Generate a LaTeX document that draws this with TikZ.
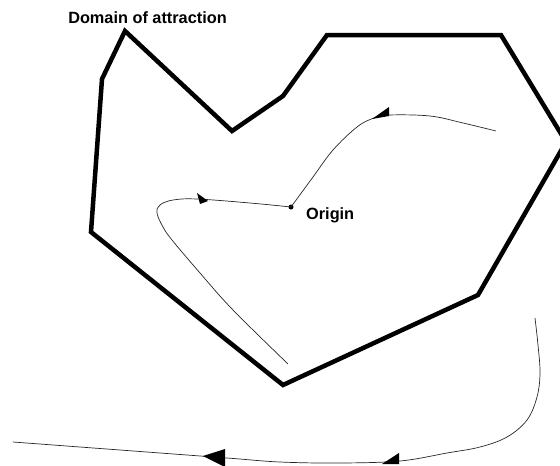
\documentclass[tikz,border=0pt]{standalone}
\usepackage{fontspec}
\setmainfont{Liberation Sans}
\begin{document}
\begin{tikzpicture}[x=1pt,y=-1pt,
  region/.style={line width=4.5pt, line join=miter},
  traj/.style={line width=0.7pt, black!85},
  head/.style={fill=black},
  lbl/.style={font=\fontsize{16.3}{19}\selectfont\bfseries, inner sep=0pt},
  dot/.style={circle, fill=black, inner sep=0pt, minimum size=5pt}]
\useasboundingbox (0,0) rectangle (560,466);
\begin{scope}
\clip (0,0) rectangle (560,466);
% domain of attraction
\draw[region] (125,31) -- (232,131) -- (283,96) -- (327,35) -- (501,35)
  -- (566,142) -- (478,295) -- (283,385) -- (91,232) -- (102,79) -- cycle;

% labels and origin
\node[lbl, anchor=base] (title) at (147.5,23.5) {Domain of attraction};
\node[dot] (O) at (291,207) {};
\node[lbl, anchor=base west] (olabel) at (306,219) {Origin};

\coordinate (o) at (291,207);
\coordinate (e1) at (496,131);
\coordinate (e2) at (288,364);
\coordinate (s3) at (535,318);
\coordinate (e3) at (13,442);

% upper trajectory
\draw[traj] plot[smooth, tension=0.6] coordinates {(o) (313,177) (333,150) (357,127) (374,118) (389,115) (430,116) (463,123) (e1)};
% left trajectory
\draw[traj] plot[smooth, tension=0.6] coordinates {(o) (250,203) (197,199) (173,200) (160,205) (157,213) (163,227) (172,240) (200,273) (233,310) (e2)};
% bottom trajectory
\draw[traj] plot[smooth, tension=0.6] coordinates {(s3) (538,345) (540,373) (537,397) (527,420) (507,437) (480,447) (447,453) (400,461) (340,463) (280,462) (227,458) (120,450) (e3)};

% arrowheads
\fill[head] (372,119) -- (389,107) -- (389,116) -- cycle;
\fill[head] (197,193) -- (208,201) -- (200,204) -- cycle;
\fill[head] (382,464) -- (399,453) -- (399,464) -- cycle;
\fill[head] (203,456) -- (225,449) -- (225,467) -- cycle;
\end{scope}
\end{tikzpicture}
\end{document}
